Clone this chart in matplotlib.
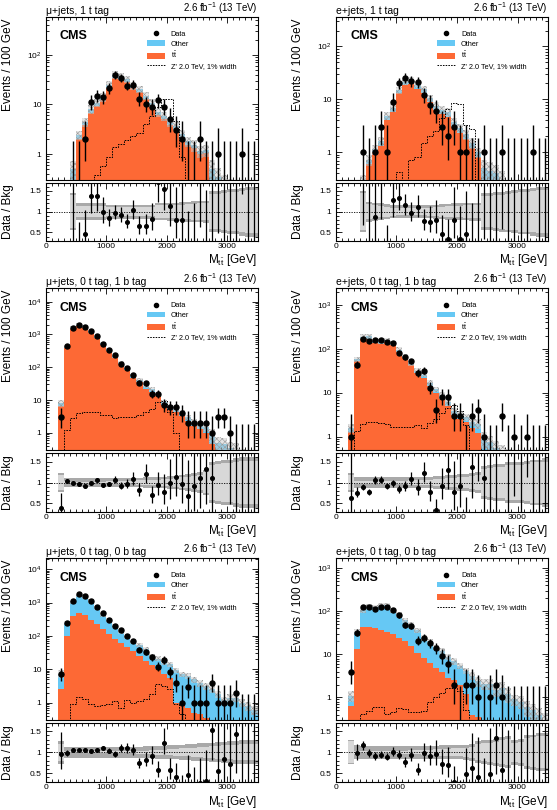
import numpy as np
import matplotlib
matplotlib.use("Agg")
import matplotlib.pyplot as plt
from matplotlib.patches import Patch
from matplotlib.lines import Line2D
from matplotlib.ticker import MultipleLocator, LogLocator, FuncFormatter, NullFormatter

plt.rcParams.update({"font.family": "Liberation Sans", "mathtext.fontset": "custom",
                     "mathtext.rm": "Liberation Sans", "mathtext.it": "Liberation Sans:italic",
                     "mathtext.bf": "Liberation Sans:bold", "hatch.linewidth": 0.4,
                     "axes.linewidth": 0.8})

EDGES = np.arange(0, 3600, 100)          # 100 GeV bins, 0 - 3500 GeV
TT_COL, OTH_COL = "#FD6935", "#66C8F4"
LUMI = r"2.6 fb$^{-1}$ (13 TeV)"

# ── μ+jets, 1 t tag ──────────────────────────────────────────────────────────
data_mu1t  = [0,0,0,0,0,0,2,11,15,14,21,39,34,24,25,13,10,9,12,9,5,3,2,0,0,2,0,0,1,0,0,0,1,0,0]
total_mu1t = [0,0,0,0,0.5,2.4,4.4,8.0,10.9,14,25,40,37,32,24,20,15,10.8,7.0,5.8,4.4,3.7,2.5,1.8,1.5,1.15,1.2,0.5,0.35,0.25,0.2,0.15,0.12,0.1,0.1]
ttbar_mu1t = [0,0,0,0,0.2,2.0,3.8,6.8,9.2,12,21,34,32,28,21,17.5,13,9.3,6.0,5.0,3.8,3.2,2.1,1.55,1.3,1.0,1.05,0.25,0.1,0.05,0.05,0.04,0.04,0.03,0.03]
zp_mu1t    = [0,0,0,0,0,0,0,0,0.37,0.58,0.86,1.36,1.6,1.9,2.3,2.7,4.0,5.8,8.8,13,13,4.6,0.86,0.2,0,0,0,0,0,0,0,0,0,0,0]
utot_mu1t  = [0,0,0,0,0.45,0.2,0.2,0.2,0.2,0.2,0.17,0.17,0.17,0.17,0.17,0.17,0.17,0.17,0.21,0.21,0.22,0.22,0.23,0.24,0.25,0.26,0.27,0.5,0.5,0.52,0.55,0.55,0.58,0.6,0.6]
ustat_mu1t = [0,0,0,0,0.4,0.14,0.14,0.14,0.14,0.14,0.11,0.11,0.11,0.11,0.11,0.11,0.11,0.11,0.15,0.15,0.16,0.16,0.17,0.18,0.19,0.2,0.21,0.42,0.42,0.44,0.47,0.47,0.5,0.52,0.52]

# ── e+jets, 1 t tag ──────────────────────────────────────────────────────────
data_e1t  = [0,0,0,0,1,0,1,3,1,9,20,25,22,21,12,8,6,3,2,3,1,1,0,0,1,0,0,1,0,0,0,0,1,0,0]
total_e1t = [0,0,0,0,0.25,0.72,1.15,1.65,4.9,7,15,21.7,22.7,19,15.4,10.5,7.5,6.4,5.7,3.7,2.9,2.2,1.5,1.0,0.5,0.45,0.4,0.3,0.2,0.15,0.1,0.1,0.08,0.08,0.06]
ttbar_e1t = [0,0,0,0,0.1,0.6,1.0,1.33,4.0,5.8,13,18.5,19.5,16,13,8.8,6.2,5.2,4.6,3.0,2.3,1.75,1.2,0.8,0.2,0.3,0.3,0.1,0.05,0.04,0.03,0.03,0.02,0.02,0.02]
zp_e1t    = [0,0,0,0,0,0,0,0,0,0,0.42,0.25,0.72,0.8,1.5,2.05,2.5,4.5,6.5,8.6,8.2,3.3,2.8,0.2,0,0,0,0,0,0,0,0,0,0,0]
utot_e1t  = [0,0,0,0,0.5,0.24,0.22,0.2,0.18,0.16,0.15,0.15,0.15,0.15,0.15,0.16,0.17,0.18,0.19,0.2,0.2,0.21,0.22,0.22,0.45,0.45,0.47,0.48,0.5,0.52,0.55,0.55,0.58,0.6,0.6]
ustat_e1t = [0,0,0,0,0.44,0.18,0.16,0.14,0.12,0.1,0.09,0.09,0.09,0.09,0.09,0.1,0.11,0.12,0.13,0.14,0.14,0.15,0.16,0.16,0.38,0.38,0.4,0.41,0.43,0.45,0.48,0.48,0.5,0.52,0.52]

# ── μ+jets, 0 t tag, 1 b tag ─────────────────────────────────────────────────
data_mu1b  = [0,0,3,440,1600,1930,1640,1260,915,508,341,229,128,94,60,34,32,15,15,7,6,6,4,2,2,2,2,1,3,3,1,0,0,0,0]
total_mu1b = [0,0,7.9,423,1600,1990,1780,1270,855,535,355,214,139,97,55,41,26.7,21.7,15.8,9.0,6.1,5.3,4.2,3.0,2.2,1.8,1.5,0.9,0.5,0.45,0.35,0.3,0.2,0.15,0.1]
ttbar_mu1b = [0,0,6.5,390,1480,1840,1640,1160,780,485,320,192,124,85,48,35,22,18,13,7.3,4.9,4.2,3.3,2.3,1.6,1.3,1.0,0.45,0.15,0.1,0.08,0.05,0.04,0.03,0.02]
zp_mu1b    = [0,0,0.15,1.2,2.9,3.9,4.4,4.4,4.4,3.6,3.6,2.9,3.1,3.1,3.1,3.4,4.4,5.5,8.8,9.5,4.4,1.0,0.25,0,0,0,0,0,0,0,0,0,0,0,0]
utot_mu1b  = [0,0,0.23,0.11,0.1,0.1,0.1,0.1,0.1,0.1,0.1,0.1,0.1,0.1,0.1,0.11,0.12,0.12,0.13,0.14,0.15,0.16,0.18,0.2,0.22,0.25,0.3,0.5,0.52,0.55,0.55,0.58,0.6,0.6,0.6]
ustat_mu1b = [0,0,0.17,0.03,0.02,0.02,0.02,0.02,0.02,0.02,0.03,0.03,0.03,0.04,0.04,0.05,0.05,0.06,0.07,0.08,0.09,0.1,0.12,0.14,0.16,0.19,0.24,0.42,0.44,0.47,0.47,0.5,0.52,0.52,0.52]

# ── e+jets, 0 t tag, 1 b tag ─────────────────────────────────────────────────
data_e1b  = [0,0,1,44,170,148,160,157,145,133,80,64,52,28,32,13,4,8,8,3,3,0,3,4,1,0,0,3,0,1,0,1,0,0,0]
total_e1b = [0,0,1.6,58,191,192,151,148,159,136,96,70,48,32,26,17,12,8.8,6.2,3.9,3.3,2.8,2.2,2.0,0.9,0.75,0.55,0.45,0.35,0.25,0.2,0.15,0.12,0.1,0.08]
ttbar_e1b = [0,0,1.3,52,172,172,135,132,142,121,85,62,42,28,22,14,10,7.2,5.0,3.1,2.6,2.2,1.6,1.2,0.5,0.3,0.2,0.1,0.06,0.05,0.04,0.03,0.02,0.02,0.02]
zp_e1b    = [0,0,0,1.35,1.97,2.15,2.15,2.08,1.97,1.69,1.66,1.66,1.66,1.84,1.6,2.04,2.6,3.5,4.4,5.4,3.8,1.9,0.4,0,0,0,0,0,0,0,0,0,0,0,0]
utot_e1b  = [0,0,0.22,0.13,0.12,0.12,0.12,0.12,0.12,0.12,0.12,0.12,0.13,0.13,0.13,0.14,0.15,0.16,0.17,0.18,0.2,0.2,0.22,0.25,0.4,0.42,0.45,0.45,0.48,0.5,0.5,0.52,0.55,0.55,0.58]
ustat_e1b = [0,0,0.18,0.04,0.03,0.03,0.03,0.03,0.03,0.03,0.04,0.04,0.05,0.05,0.06,0.07,0.08,0.09,0.1,0.11,0.13,0.13,0.15,0.18,0.33,0.35,0.38,0.38,0.41,0.43,0.43,0.45,0.48,0.48,0.5]

# ── μ+jets, 0 t tag, 0 b tag ─────────────────────────────────────────────────
data_mu0b  = [0,0,7,245,1080,1750,1600,1135,718,475,307,194,148,100,71,39,33,23,12,19,8,4,1,3,1,1,1,4,1,1,1,2,0,0,0]
total_mu0b = [0,0,7.3,250,1020,1650,1510,1100,690,432,298,204,135,91,67,53,40,25,21,15.5,14,9.5,7,6.4,5,3.8,3.1,2.6,1.8,1.2,1.4,1.4,1.0,0.8,0.6]
ttbar_mu0b = [0,0,2.5,98,385,490,410,307,228,161,114,81,62,46,35,25,17.5,13,10,7.3,5.5,1.0,0.9,0.7,0.5,0.45,0.35,0.2,0.05,0.04,0.03,0.03,0.02,0.02,0.02]
zp_mu0b    = [0,0,0,0,0.9,1.5,1.25,0.93,0.8,0.85,0.93,1.1,0.68,1.17,1.0,1.1,1.25,1.86,3.5,3.1,2.5,0.9,0.45,0.2,0,0,0,0,0,0,0,0,0,0,0]
utot_mu0b  = [0,0,0.27,0.13,0.13,0.13,0.13,0.13,0.13,0.13,0.13,0.13,0.13,0.13,0.13,0.13,0.14,0.14,0.15,0.15,0.16,0.17,0.18,0.19,0.2,0.21,0.22,0.23,0.24,0.25,0.26,0.27,0.28,0.28,0.28]
ustat_mu0b = [0,0,0.2,0.03,0.02,0.02,0.02,0.02,0.02,0.02,0.02,0.03,0.03,0.03,0.03,0.04,0.04,0.05,0.06,0.06,0.07,0.08,0.09,0.1,0.11,0.12,0.13,0.14,0.15,0.16,0.17,0.18,0.19,0.19,0.19]

# ── e+jets, 0 t tag, 0 b tag ─────────────────────────────────────────────────
data_e0b  = [0,0,4,32,123,123,111,125,123,107,80,47,46,21,24,18,14,9,6,2,0,2,2,1,0,1,2,1,0,0,0,0,0,0,0]
total_e0b = [0,0,1.1,32.7,106,126,123,133,137,106,85,62,49,36,24.5,20,14.6,12.3,8.6,7.0,5.5,4.2,3.2,2.4,2.1,2.1,1.5,1.7,1.2,0.9,0.8,0.6,0.5,0.4,0.3]
ttbar_e0b = [0,0,0.64,13.5,43,43,40,36,33,30,24,20,15.6,10.9,8.4,6.4,4.9,3.8,2.9,2.5,2.0,1.2,0.4,0.35,0.25,0.1,0.08,0.05,0.03,0.02,0.02,0.02,0.01,0.01,0.01]
zp_e0b    = [0,0,0,0.28,0.41,0.49,0.59,0.61,0.41,0.45,0.57,0.54,0.45,0.45,0.49,0.77,1.0,1.3,1.64,1.64,1.4,0.5,0.2,0,0,0,0,0,0,0,0,0,0,0,0]
utot_e0b  = [0,0,0.29,0.16,0.15,0.15,0.15,0.15,0.15,0.15,0.15,0.15,0.15,0.15,0.15,0.15,0.15,0.16,0.16,0.17,0.17,0.18,0.2,0.26,0.28,0.3,0.32,0.35,0.38,0.3,0.32,0.4,0.42,0.45,0.45]
ustat_e0b = [0,0,0.26,0.04,0.03,0.03,0.03,0.03,0.03,0.03,0.04,0.04,0.05,0.05,0.06,0.06,0.07,0.08,0.08,0.09,0.1,0.11,0.13,0.19,0.21,0.23,0.25,0.28,0.31,0.23,0.25,0.33,0.35,0.38,0.38]

PANELS = [
    ("μ+jets, 1 t tag", data_mu1t, total_mu1t, ttbar_mu1t, zp_mu1t, utot_mu1t, ustat_mu1t, (0.3, 585)),
    ("e+jets, 1 t tag", data_e1t, total_e1t, ttbar_e1t, zp_e1t, utot_e1t, ustat_e1t, (0.3, 365)),
    ("μ+jets, 0 t tag, 1 b tag", data_mu1b, total_mu1b, ttbar_mu1b, zp_mu1b, utot_mu1b, ustat_mu1b, (0.3, 25600)),
    ("e+jets, 0 t tag, 1 b tag", data_e1b, total_e1b, ttbar_e1b, zp_e1b, utot_e1b, ustat_e1b, (0.5, 2390)),
    ("μ+jets, 0 t tag, 0 b tag", data_mu0b, total_mu0b, ttbar_mu0b, zp_mu0b, utot_mu0b, ustat_mu0b, (0.3, 21300)),
    ("e+jets, 0 t tag, 0 b tag", data_e0b, total_e0b, ttbar_e0b, zp_e0b, utot_e0b, ustat_e0b, (0.3, 1700)),
]

W, H = 557, 810
COLS = [(45.7, 257.5), (335.7, 547.8)]
ROWS = [((16.7, 180), (182.7, 240.7)), ((288.3, 450), (453.3, 511.7)), ((558.3, 720), (722.7, 781.7))]


def poisson_err(n):
    # approximate Garwood 68% interval
    n = np.asarray(n, float)
    m = np.maximum(n, 1)
    lo = np.where(n > 0, n * (1 - 1 / (9 * m) - 1 / (3 * np.sqrt(m))) ** 3, 0.0)
    hi = (n + 1) * (1 - 1 / (9 * (n + 1)) + 1 / (3 * np.sqrt(n + 1))) ** 3
    return n - lo, hi - n


def log_fmt(v, _):
    if v == 1: return "1"
    if v == 10: return "10"
    return r"$10^{%d}$" % round(np.log10(v))


def style(ax):
    ax.tick_params(which="both", direction="in", top=True, right=True, labelsize=6, width=0.6, pad=2)
    ax.tick_params(which="major", length=4.5)
    ax.tick_params(which="minor", length=2.2)
    ax.set_xlim(0, 3500)
    ax.xaxis.set_major_locator(MultipleLocator(1000))
    ax.xaxis.set_minor_locator(MultipleLocator(100))


fig = plt.figure(figsize=(W / 100, H / 100), dpi=100)
for k, (title, dat, tot, tt, zp, utot, ustat, ylim) in enumerate(PANELS):
    (x0, x1), ((m0, m1), (r0, r1)) = COLS[k % 2], ROWS[k // 2]
    ax = fig.add_axes([x0 / W, 1 - m1 / H, (x1 - x0) / W, (m1 - m0) / H])
    axr = fig.add_axes([x0 / W, 1 - r1 / H, (x1 - x0) / W, (r1 - r0) / H])
    dat, tot, tt, zp = map(np.asarray, (dat, tot, tt, zp))
    utot, ustat = np.asarray(utot), np.asarray(ustat)
    centers = 0.5 * (EDGES[:-1] + EDGES[1:])
    i0 = int(np.argmax(tot > 0))
    e = EDGES[i0:]

    # main panel: stack, uncertainty, signal, data
    ax.set_yscale("log")
    ax.stairs(tot[i0:], e, baseline=1e-3, fill=True, color=OTH_COL, lw=0, zorder=1)
    ax.stairs(tt[i0:], e, baseline=1e-3, fill=True, color=TT_COL, lw=0, zorder=2)
    ax.stairs(tot[i0:] * (1 + utot[i0:]), e, baseline=tot[i0:] * (1 - utot[i0:]), fill=True,
              facecolor=(0.8, 0.8, 0.8, 0.5), edgecolor="0.6", hatch="xxxxxx", lw=0, zorder=3)
    nz = np.nonzero(zp)[0]
    ax.stairs(zp[nz[0]:nz[-1] + 1], EDGES[nz[0]:nz[-1] + 2], baseline=1e-3, fill=False,
              color="k", lw=0.7, ls=(0, (1.6, 1.2)), zorder=4)
    dlo, dhi = poisson_err(dat)
    has = dat > 0
    ax.errorbar(centers[has], dat[has], yerr=[dlo[has], dhi[has]], fmt="o", ms=3.6, color="k",
                elinewidth=1.0, capsize=0, zorder=6)
    empty = (dat == 0) & (tot > 0)
    ax.vlines(centers[empty], 1e-3, dhi[empty], color="k", lw=1.0, zorder=6)
    ax.set_ylim(*ylim)
    style(ax)
    ax.yaxis.set_major_locator(LogLocator(base=10, numticks=10))
    ax.yaxis.set_minor_locator(LogLocator(base=10, subs=np.arange(2, 10), numticks=20))
    ax.yaxis.set_major_formatter(FuncFormatter(log_fmt))
    ax.yaxis.set_minor_formatter(NullFormatter())
    ax.tick_params(axis="y", pad=3)
    ax.tick_params(labelbottom=False)
    ax.set_ylabel("Events / 100 GeV", fontsize=8.5, loc="top")
    ax.yaxis.set_label_coords(-0.15, 0.99)
    ax.text(0, 1.006, title, transform=ax.transAxes, fontsize=7.5, ha="left", va="bottom")
    ax.text(1, 1.006, LUMI, transform=ax.transAxes, fontsize=7.0, ha="right", va="bottom")
    ax.text(0.0675, 0.881, "CMS", transform=ax.transAxes, fontsize=9.0, fontweight="bold",
            ha="left", va="center")
    handles = [Line2D([], [], marker="o", ms=3, color="k", ls="none"),
               Patch(facecolor=OTH_COL, lw=0), Patch(facecolor=TT_COL, lw=0),
               Line2D([], [], color="k", lw=0.7, ls=(0, (1.6, 1.2)))]
    labels = ["Data", "Other", r"$\mathrm{t\bar{t}}$", "Z' 2.0 TeV, 1% width"]
    ax.legend(handles, labels, loc="upper left", bbox_to_anchor=(0.477, 0.915), frameon=False,
              fontsize=5.3, handlelength=2.5, handleheight=0.82, labelspacing=0.3,
              handletextpad=0.78, borderaxespad=0, borderpad=0)

    # ratio panel
    axr.stairs(1 + utot[i0:], e, baseline=1 - utot[i0:], fill=True, color="#a9a9a9", lw=0, zorder=1)
    axr.stairs(1 + ustat[i0:], e, baseline=1 - ustat[i0:], fill=True, color="#d8d8d8", lw=0, zorder=2)
    axr.axhline(1, color="k", lw=0.6, ls=(0, (1.5, 1.5)), zorder=3)
    ok = has & (tot > 0)
    axr.errorbar(centers[ok], dat[ok] / tot[ok], yerr=[dlo[ok] / tot[ok], dhi[ok] / tot[ok]],
                 fmt="o", ms=2.6, color="k", elinewidth=0.9, capsize=0, zorder=5)
    axr.vlines(centers[empty], 0, dhi[empty] / tot[empty], color="k", lw=0.9, zorder=5)
    axr.set_ylim(0.3, 1.7)
    style(axr)
    axr.yaxis.set_major_locator(MultipleLocator(0.5))
    axr.yaxis.set_minor_locator(MultipleLocator(0.1))
    axr.yaxis.set_major_formatter(FuncFormatter(lambda v, _: "%g" % v))
    axr.tick_params(axis="y", pad=3)
    axr.set_ylabel("Data / Bkg", fontsize=8.5)
    axr.yaxis.set_label_coords(-0.15, 0.5)
    axr.set_xlabel(r"M$_{\mathrm{t\bar{t}}}$ [GeV]", fontsize=8.5, loc="right")
    axr.xaxis.set_label_coords(1.0, -0.2)

fig.savefig("out.png", dpi=100, facecolor="white")
